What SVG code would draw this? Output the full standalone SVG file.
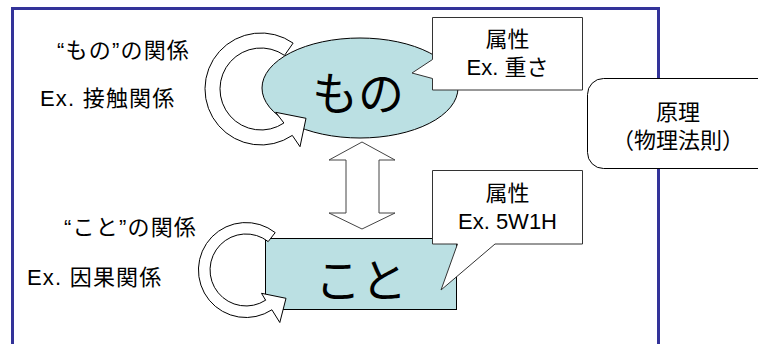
<svg xmlns="http://www.w3.org/2000/svg" width="758" height="344" viewBox="0 0 758 344">
<style>
.lbl{font-family:"Liberation Sans","Noto Sans CJK JP",sans-serif;font-size:22px;letter-spacing:1.2px;fill:#000}
.co{font-family:"Liberation Sans","Noto Sans CJK JP",sans-serif;font-size:22px;fill:#000;text-anchor:middle}
.big{font-family:"Noto Sans CJK JP",sans-serif;font-size:46px;fill:#000;text-anchor:middle}
.node{fill:#bbe0e3;stroke:#000;stroke-width:1}
.call{fill:#fff;stroke:#333;stroke-width:1}
.ring{fill:#fff;stroke:#000;stroke-width:1;stroke-linejoin:miter}
</style>
<rect width="758" height="344" fill="#fff"/>
<g id="frame">
<rect x="12.5" y="8.5" width="646" height="360" fill="none" stroke="#333399" stroke-width="3"/>
</g>
<g id="mono">
<ellipse cx="360" cy="88" rx="98" ry="50" class="node"/>
<text x="358" y="110" class="big">もの</text>
</g>
<g id="koto">
<rect x="265.5" y="238.5" width="191" height="71" class="node"/>
<text x="361" y="297" class="big">こと</text>
</g>
<g id="connectors">
<path class="ring" d="M293.1,43.1 A56,56 0 1 0 292.3,135.4 L300,146.7 L306,118.3 L275.7,112.3 L283.9,123 A41,41 0 1 1 284.5,55.4 Z"/>
<path class="ring" d="M275.2,232.6 A47.5,47.5 0 1 0 271.9,309.8 L279.8,322.5 L286,298.3 L261.5,293.3 L265.6,300.2 A36,36 0 1 1 268.2,241.6 Z"/>
<path fill="#fff" stroke="#444" stroke-width="1" d="M362,142 L395,160 L379,160 L379,213 L395,213 L362,229 L329,213 L346,213 L346,160 L329,160 Z"/>
</g>
<g id="callout-mono">
<path class="call" d="M432.5,17.5 L582.5,17.5 L582.5,90 L432.5,90 L432.5,78.5 L412,73 L432.5,59.5 Z"/>
<text x="507.5" y="47" class="co">属性</text>
<text x="507.5" y="75" class="co">Ex. 重さ</text>
</g>
<g id="callout-koto">
<path class="call" d="M432.5,170.5 L582.5,170.5 L582.5,244 L495,244 L441,290 L457.5,244 L432.5,244 Z"/>
<text x="507.5" y="201" class="co">属性</text>
<text x="507.5" y="229" class="co">Ex. 5W1H</text>
</g>
<g id="genri">
<rect x="587.5" y="78.5" width="200" height="90" rx="16" fill="#fff" stroke="#000" stroke-width="1"/>
<text x="678" y="120" class="co">原理</text>
<text x="678" y="148" class="co">（物理法則）</text>
</g>
<g id="labels">
<text x="57" y="58" class="lbl">“もの”の関係</text>
<text x="40" y="106" class="lbl">Ex. 接触関係</text>
<text x="64" y="235" class="lbl">“こと”の関係</text>
<text x="27" y="285" class="lbl">Ex. 因果関係</text>
</g>
</svg>
